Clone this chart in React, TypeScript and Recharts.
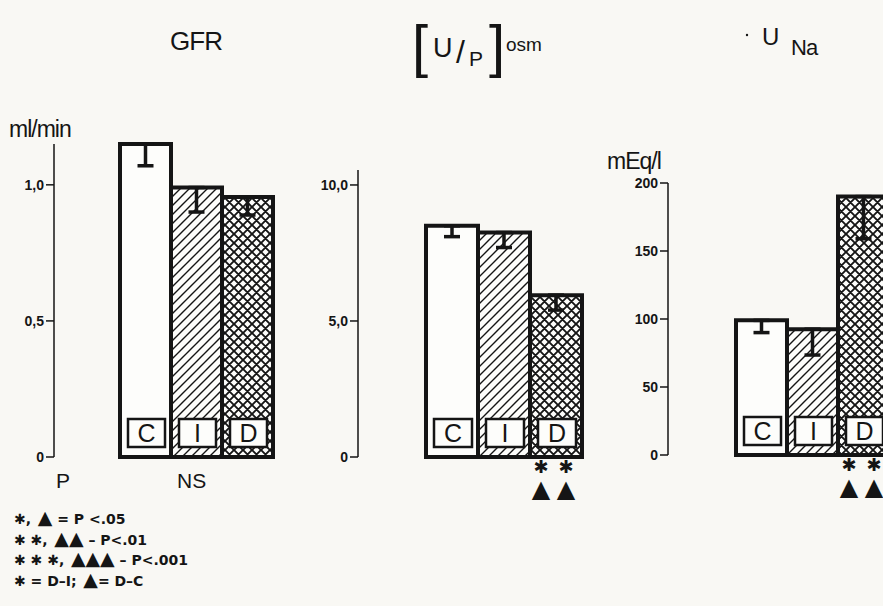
import React from "react";
import { BarChart, Bar, XAxis, YAxis, Cell, ErrorBar, LabelList } from "recharts";

// groups: C = control, I, D
const groups = ["C", "I", "D"];

// GFR (ml/min)
const gfrMean = [1.15, 0.99, 0.955];
const gfrErr = [0.08, 0.09, 0.066];
const gfrSig = [0, 0, 0];
const gfrTicks = [0, 0.5, 1.0];

// [U/P] osm
const osmMean = [8.5, 8.25, 5.95];
const osmErr = [0.4, 0.55, 0.55];
const osmSig = [0, 0, 2];
const osmTicks = [0, 5, 10];

// U Na (mEq/l)
const naMean = [99, 92.5, 190];
const naErr = [9, 19, 31];
const naSig = [0, 0, 2];
const naTicks = [0, 50, 100, 150, 200];

// footnote: [asterisks, triangles, text]
const legendStars = [1, 2, 3];
const legendText = ["= P <.05", "– P<.01", "– P<.001"];

const INK = "#151515";
const PAPER = "#f9f8f4";
const FONT = "'Liberation Sans', Arial, sans-serif";
const SYM = "'DejaVu Sans', sans-serif";
const FILLS = ["#fdfdfb", "url(#hatch)", "url(#cross)"];

const build = (mean: number[], err: number[], sig: number[]) =>
  groups.map((g, i) => ({ g, v: mean[i], err: [err[i], 0], sig: sig[i] }));

const commaFmt = (v: number) => (v === 0 ? "0" : v.toFixed(1).replace(".", ","));
const intFmt = (v: number) => String(v);

// letter box at the foot of each bar
const GroupBox = (props: any) => {
  const { x, y, width, height, value } = props;
  const base = y + height;
  return (
    <g>
      <rect x={x + 8} y={base - 38} width={width - 14} height={28} fill="#fdfdfb" stroke={INK} strokeWidth={2.5} />
      <text x={x + width / 2 + 1} y={base - 15} textAnchor="middle" fontSize={25} fontFamily={FONT} fill={INK}>
        {value}
      </text>
    </g>
  );
};

// asterisks + triangles under a bar
const SigMarks = (props: any) => {
  const { x, y, width, height, value } = props;
  if (!value) return null;
  const base = y + height;
  const marks = [];
  for (let i = 0; i < value; i++) {
    const cx = x + 11 + i * 25;
    marks.push(
      <g key={i}>
        <text x={cx} y={base + 16} textAnchor="middle" fontSize={18} fontWeight={700} fontFamily={SYM} fill={INK}>✱</text>
        <text x={cx} y={base + 40} textAnchor="middle" fontSize={24} fontFamily={SYM} fill={INK}>▲</text>
      </g>
    );
  }
  return <g>{marks}</g>;
};

interface PanelProps {
  data: any[];
  width: number;
  margin: { top: number; right: number; bottom: number; left: number };
  axisWidth: number;
  padLeft: number;
  domain: [number, number];
  ticks: number[];
  fmt: (v: number) => string;
}

function Panel({ data, width, margin, axisWidth, padLeft, domain, ticks, fmt }: PanelProps) {
  return (
    <div style={{ position: "absolute", left: 0, top: 0 }}>
      <BarChart width={width} height={606} data={data} margin={margin} barCategoryGap={0}>
        <XAxis dataKey="g" hide padding={{ left: padLeft, right: 0 }} />
        <YAxis
          width={axisWidth}
          domain={domain}
          ticks={ticks}
          tickFormatter={fmt}
          axisLine={{ stroke: INK, strokeWidth: 1.5 }}
          tickLine={{ stroke: INK, strokeWidth: 1.5 }}
          tickSize={8}
          tick={{ fill: INK, fontSize: 14, fontWeight: 700, fontFamily: FONT }}
        />
        <Bar dataKey="v" stroke={INK} strokeWidth={4} isAnimationActive={false}>
          {data.map((d, i) => (
            <Cell key={d.g} fill={FILLS[i]} />
          ))}
          <ErrorBar dataKey="err" width={8} stroke={INK} strokeWidth={3.5} isAnimationActive={false} />
          <LabelList dataKey="g" content={GroupBox} />
          <LabelList dataKey="sig" content={SigMarks} />
        </Bar>
      </BarChart>
    </div>
  );
}

export default function App() {
  return (
    <div
      style={{
        position: "absolute",
        left: 0,
        top: 0,
        width: 883,
        height: 606,
        overflow: "hidden",
        background: PAPER,
        fontFamily: FONT,
      }}
    >
      <svg width={0} height={0} style={{ position: "absolute" }}>
        <defs>
          <pattern id="hatch" patternUnits="userSpaceOnUse" width={9} height={9}>
            <rect width={9} height={9} fill="#fdfdfb" />
            <path d="M-1,1 l2,-2 M0,9 l9,-9 M8,10 l2,-2" stroke={INK} strokeWidth={1.4} />
          </pattern>
          <pattern id="cross" patternUnits="userSpaceOnUse" width={9} height={9}>
            <rect width={9} height={9} fill="#fdfdfb" />
            <path d="M-1,1 l2,-2 M0,9 l9,-9 M8,10 l2,-2 M-1,8 l2,2 M0,0 l9,9 M8,-1 l2,2" stroke={INK} strokeWidth={1.9} />
          </pattern>
        </defs>
      </svg>

      <Panel
        data={build(gfrMean, gfrErr, gfrSig)}
        width={883}
        margin={{ top: 144, right: 610, bottom: 149, left: 0 }}
        axisWidth={54}
        padLeft={66}
        domain={[0, 1.15]}
        ticks={gfrTicks}
        fmt={commaFmt}
      />
      <Panel
        data={build(osmMean, osmErr, osmSig)}
        width={883}
        margin={{ top: 170, right: 301, bottom: 149, left: 300 }}
        axisWidth={58}
        padLeft={68}
        domain={[0, 10.55]}
        ticks={osmTicks}
        fmt={commaFmt}
      />
      <Panel
        data={build(naMean, naErr, naSig)}
        width={900}
        margin={{ top: 183, right: 11, bottom: 151, left: 600 }}
        axisWidth={68}
        padLeft={68}
        domain={[0, 200]}
        ticks={naTicks}
        fmt={intFmt}
      />

      {/* titles, units and footnotes */}
      <svg width={883} height={606} style={{ position: "absolute", left: 0, top: 0 }} fontFamily={FONT} fill={INK}>
        <text x={196} y={50} textAnchor="middle" fontSize={26} letterSpacing={-1}>GFR</text>

        <text x={412} y={66} fontSize={58} fontWeight={300}>[</text>
        <text x={433} y={57} fontSize={27}>U</text>
        <text x={456} y={63} fontSize={32}>/</text>
        <text x={469} y={66} fontSize={21}>P</text>
        <text x={489} y={66} fontSize={58} fontWeight={300}>]</text>
        <text x={506} y={51} fontSize={19}>osm</text>

        <circle cx={747} cy={35} r={1.2} />
        <text x={762} y={45} fontSize={24}>U</text>
        <text x={791} y={55} fontSize={22} letterSpacing={-1}>Na</text>

        <text x={9} y={137} fontSize={23} letterSpacing={-1}>ml/min</text>
        <text x={607} y={169} fontSize={23} letterSpacing={-1}>mEq/l</text>

        <text x={56} y={488} fontSize={21}>P</text>
        <text x={177} y={488} fontSize={21}>NS</text>

        {legendStars.map((n, i) => (
          <text key={i} x={14} y={524 + i * 20.5} fontSize={14} fontWeight={700} fontFamily={SYM}>
            {Array(n).fill("✱").join(" ")},
            <tspan fontSize={19}>{" " + "▲".repeat(n)}</tspan>
            {" " + legendText[i]}
          </text>
        ))}
        <text x={14} y={585.5} fontSize={14} fontWeight={700} fontFamily={SYM}>
          ✱ = D–I;
          <tspan fontSize={19}>{"  ▲"}</tspan>
          {"= D–C"}
        </text>
      </svg>
    </div>
  );
}
